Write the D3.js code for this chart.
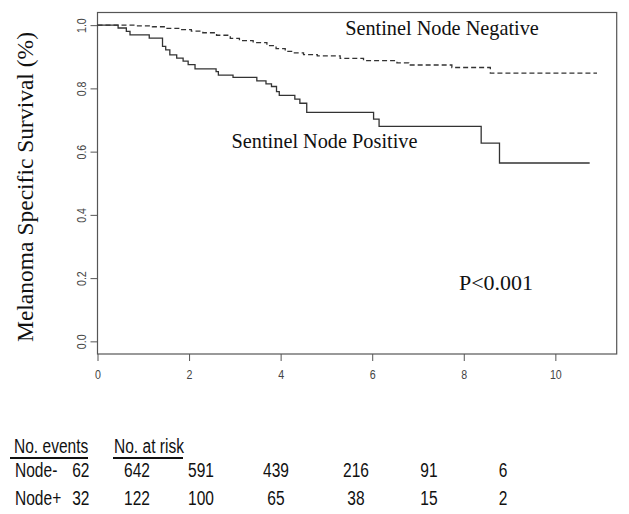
<!DOCTYPE html>
<html><head><meta charset="utf-8">
<script src="https://cdn.jsdelivr.net/npm/d3@7"></script>
<style>body{margin:0;background:#fff;} svg{display:block;}</style>
</head><body>
<svg id="c" width="629" height="514"></svg>
<script>
// ---- data ----
const negTimes = [0, 0.85, 1.2, 1.5, 1.8, 2.05, 2.3, 2.6, 2.9, 3.1, 3.4, 3.7, 3.9, 4.1, 4.3, 4.5, 4.8, 5.30, 5.81, 6.54, 6.8, 7.74, 8.58];
const negSurv  = [1.0, 0.998, 0.995, 0.990, 0.986, 0.981, 0.976, 0.968, 0.958, 0.951, 0.945, 0.935, 0.926, 0.917, 0.912, 0.907, 0.903, 0.895, 0.888, 0.881, 0.874, 0.866, 0.848];
const negEnd = 10.91;
const posTimes = [0, 0.45, 0.63, 0.71, 1.13, 1.42, 1.49, 1.58, 1.73, 1.87, 1.98, 2.13, 2.59, 2.64, 2.96, 3.48, 3.68, 3.80, 3.91, 3.97, 4.31, 4.42, 4.57, 6.03, 6.15, 8.38, 8.78];
const posSurv  = [1.0, 0.991, 0.980, 0.969, 0.959, 0.933, 0.922, 0.906, 0.896, 0.886, 0.875, 0.862, 0.853, 0.842, 0.835, 0.824, 0.814, 0.806, 0.790, 0.778, 0.766, 0.753, 0.724, 0.703, 0.680, 0.627, 0.564];
const posEnd = 10.75;
const xTicks = [0, 2, 4, 6, 8, 10];
const yTicks = [0.0, 0.2, 0.4, 0.6, 0.8, 1.0];
const riskGroups = ["Node-", "Node+"];
const riskEvents = [62, 32];
const riskNeg = [642, 591, 439, 216, 91, 6];
const riskPos = [122, 100, 65, 38, 15, 2];

// ---- layout ----
const svg = d3.select("#c");
const L = 97.5, R = 616.7, T = 12.5, B = 354;
const x = d3.scaleLinear().domain([0, 11.34]).range([L, R]);
const y = d3.scaleLinear().domain([-0.04, 1.04]).range([B, T]);
const sans = "'Liberation Sans',Arial,sans-serif";
const serif = "'Liberation Serif','Times New Roman',serif";
const SX = 0.74; // condensed look

// box
svg.append("rect").attr("x", L).attr("y", T).attr("width", R - L).attr("height", B - T)
  .attr("fill", "none").attr("stroke", "#555").attr("stroke-width", 1.2);

// axes
const xAxis = d3.axisBottom(x).tickValues(xTicks).tickFormat(d3.format("d")).tickSize(7).tickSizeOuter(0);
const gx = svg.append("g").attr("transform", `translate(0,${B})`).call(xAxis);
gx.select(".domain").remove();
gx.selectAll("line").attr("stroke", "#555");
gx.selectAll("text").attr("font-family", sans).attr("font-size", 13).attr("fill", "#444")
  .attr("dy", null).attr("y", null).attr("transform", "translate(0,25) scale(0.82,1)");

const yAxis = d3.axisLeft(y).tickValues(yTicks).tickFormat(d3.format(".1f")).tickSize(7).tickSizeOuter(0);
const gy = svg.append("g").attr("transform", `translate(${L},0)`).call(yAxis);
gy.select(".domain").remove();
gy.selectAll("line").attr("stroke", "#555");
gy.selectAll("text").attr("font-family", sans).attr("font-size", 13).attr("fill", "#444")
  .attr("x", null).attr("dy", null).attr("text-anchor", "middle")
  .attr("transform", "translate(-12,0) rotate(-90) scale(0.82,1)");

// curves
function stepData(ts, ss, end) {
  const pts = ts.map((t, i) => [t, ss[i]]);
  pts.push([end, ss[ss.length - 1]]);
  return pts;
}
const line = d3.line().x(d => x(d[0])).y(d => y(d[1])).curve(d3.curveStepAfter);
svg.append("path").datum(stepData(negTimes, negSurv, negEnd)).attr("d", line)
  .attr("fill", "none").attr("stroke", "#333").attr("stroke-width", 1.3).attr("stroke-dasharray", "5,3");
svg.append("path").datum(stepData(posTimes, posSurv, posEnd)).attr("d", line)
  .attr("fill", "none").attr("stroke", "#333").attr("stroke-width", 1.3);

// annotations
svg.append("text").attr("x", 442).attr("y", 35).attr("text-anchor", "middle")
  .attr("font-family", serif).attr("font-size", 20.3).attr("fill", "#111").text("Sentinel Node Negative");
svg.append("text").attr("x", 324.5).attr("y", 148).attr("text-anchor", "middle")
  .attr("font-family", serif).attr("font-size", 20.3).attr("fill", "#111").text("Sentinel Node Positive");
svg.append("text").attr("x", 496).attr("y", 290).attr("text-anchor", "middle")
  .attr("font-family", serif).attr("font-size", 22).attr("fill", "#111").text("P<0.001");
svg.append("text").attr("transform", "translate(33,187) rotate(-90)").attr("text-anchor", "middle")
  .attr("font-family", serif).attr("font-size", 23.5).attr("fill", "#111").text("Melanoma Specific Survival (%)");

// risk table
const tf = 21;
function tt(xp, yp, str, anchor) {
  return svg.append("text").attr("transform", `translate(${xp},${yp}) scale(${SX},1)`)
    .attr("text-anchor", anchor || "start").attr("font-family", sans).attr("font-size", tf).attr("fill", "#111").text(str);
}
tt(14, 453, "No. events");
tt(114, 453, "No. at risk");
svg.append("line").attr("x1", 10).attr("x2", 88).attr("y1", 458).attr("y2", 458).attr("stroke", "#111").attr("stroke-width", 2);
svg.append("line").attr("x1", 113).attr("x2", 183).attr("y1", 458).attr("y2", 458).attr("stroke", "#111").attr("stroke-width", 2);
const rowY = [477, 505];
const colX = [137, 201, 276, 356, 429, 503];
[riskNeg, riskPos].forEach((vals, r) => {
  tt(15, rowY[r], riskGroups[r]);
  tt(89.5, rowY[r], riskEvents[r], "end");
  vals.forEach((v, i) => tt(colX[i], rowY[r], v, "middle"));
});
</script>
</body></html>
